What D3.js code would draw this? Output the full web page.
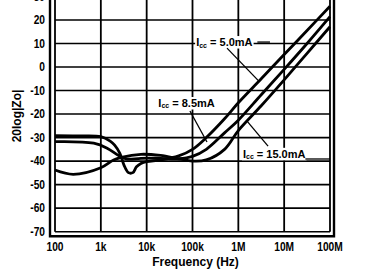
<!DOCTYPE html>
<html>
<head>
<meta charset="utf-8">
<script src="https://cdn.jsdelivr.net/npm/d3@7/dist/d3.min.js"></script>
<style>
  body { margin: 0; background: #fff; }
  svg { display: block; }
</style>
</head>
<body>
<svg id="chart" width="365" height="276"></svg>
<script>
// axis ticks
const freqTicks = [1e2, 1e3, 1e4, 1e5, 1e6, 1e7, 1e8];
const freqLabels = ["100", "1k", "10k", "100k", "1M", "10M", "100M"];
const dbTicks = [-70, -60, -50, -40, -30, -20, -10, 0, 10, 20, 30];

// Icc = 5.0mA
const freq5 = [100, 300, 1000, 1600, 2000, 2600, 3200, 4000, 5000, 6000, 7500, 10e3, 20e3, 50e3, 100e3, 200e3, 500e3, 1e6, 3.16e6, 10e6, 31.6e6, 100e6];
const db5 = [-29.2, -29.3, -29.6, -31.5, -33.2, -36.7, -41.7, -44.9, -44.9, -42.4, -41, -40.2, -39.5, -37.8, -35, -30, -22, -15.2, -5, 5.3, 15.5, 25.8];
// Icc = 8.5mA
const freq85 = [100, 700, 1400, 2500, 3600, 7500, 20e3, 50e3, 100e3, 200e3, 500e3, 1e6, 3.16e6, 10e6, 31.6e6, 100e6];
const db85 = [-31.75, -32.4, -34.6, -37.7, -39.1, -38.8, -38.8, -39, -38, -35, -28, -22.6, -11.8, -1, 10, 21.4];
// Icc = 15.0mA
const freq15 = [100, 250, 1000, 1900, 2800, 7500, 20e3, 50e3, 100e3, 200e3, 500e3, 1e6, 3.16e6, 10e6, 31.6e6, 100e6];
const db15 = [-43.8, -45.6, -42.8, -39.5, -38.4, -37.1, -37.6, -39, -40, -39.5, -35, -27, -16.5, -5.5, 5.8, 17.1];

const seriesNames = ["5.0mA", "8.5mA", "15.0mA"];

// label anchors (freq, dB of the baseline) and leader lines [[f,db],[f,db]]
const labelPos = [[1.2e5, 8.9], [1.8e4, -17], [1.26e6, -38.6]];
const leaders = [
  [[2.6e6, 10.6], [4.9e6, 10.6]],
  [[5.66e5, 8], [2.8e6, -6]],
  [[8.8e4, -18.7], [2.07e5, -31.9]],
  [[1.55e6, -23], [4.45e6, -33.6]],
  [[2.9e7, -39.1], [1e8, -39.1]]
];

const svg = d3.select("#chart");
const plotLeft = 55, plotRight = 330, plotTop = -3.6, plotBottom = 231.7;

const x = d3.scaleLog().domain([1e2, 1e8]).range([plotLeft, plotRight]);
const y = d3.scaleLinear().domain([-70, 30]).range([plotBottom, plotTop]);

// grid
svg.append("g")
  .attr("stroke", "#000")
  .attr("stroke-width", 1.6)
  .selectAll("line.h")
  .data(dbTicks)
  .join("line")
  .attr("x1", plotLeft).attr("x2", plotRight)
  .attr("y1", d => y(d)).attr("y2", d => y(d));

svg.append("g")
  .attr("stroke", "#000")
  .attr("stroke-width", 1.8)
  .selectAll("line.v")
  .data(freqTicks)
  .join("line")
  .attr("x1", d => x(d)).attr("x2", d => x(d))
  .attr("y1", plotTop).attr("y2", plotBottom);

// outer frame
svg.append("path")
  .attr("fill", "none")
  .attr("stroke", "#000")
  .attr("stroke-width", 2.4)
  .attr("d", `M${plotLeft - 5},${plotTop - 10}V${plotBottom + 4.5}H${plotRight + 4}V${plotTop - 10}`);

// curves
const line = d3.line()
  .x(d => x(d[0]))
  .y(d => y(d[1]))
  .curve(d3.curveCatmullRom.alpha(0.5));

const series = [
  d3.zip(freq5, db5),
  d3.zip(freq85, db85),
  d3.zip(freq15, db15)
];

svg.append("g")
  .attr("fill", "none")
  .attr("stroke", "#000")
  .attr("stroke-width", 2.8)
  .attr("stroke-linejoin", "round")
  .selectAll("path")
  .data(series)
  .join("path")
  .attr("d", line);

const font = "'Liberation Sans', Arial, sans-serif";

// curve labels, on white so the grid breaks around them
const labG = svg.append("g");
const lab = labG.selectAll("text")
  .data(seriesNames)
  .join("text")
  .style("font-family", font)
  .style("font-weight", "bold")
  .style("font-size", "11px")
  .attr("x", (d, i) => x(labelPos[i][0]))
  .attr("y", (d, i) => y(labelPos[i][1]));
lab.append("tspan").text("I");
lab.append("tspan").attr("dy", 1.5).style("font-size", "7px").text("cc");
lab.append("tspan").attr("dy", -1.5).text(d => " = " + d);
lab.each(function () {
  const b = this.getBBox();
  labG.insert("rect", "text")
    .attr("x", b.x - 1).attr("y", b.y)
    .attr("width", b.width + 2).attr("height", b.height)
    .attr("fill", "#fff");
});

// leader lines
svg.append("g")
  .attr("stroke", "#000")
  .attr("stroke-width", 1.3)
  .selectAll("line")
  .data(leaders)
  .join("line")
  .attr("x1", d => x(d[0][0])).attr("y1", d => y(d[0][1]))
  .attr("x2", d => x(d[1][0])).attr("y2", d => y(d[1][1]));

// y tick labels
svg.append("g")
  .style("font-family", font)
  .style("font-weight", "bold")
  .style("font-size", "12px")
  .attr("text-anchor", "end")
  .selectAll("text")
  .data(dbTicks)
  .join("text")
  .attr("class", "cond")
  .attr("x", 45)
  .attr("y", d => y(d))
  .attr("dy", "0.36em")
  .text(d => d);

// x tick labels
svg.append("g")
  .style("font-family", font)
  .style("font-weight", "bold")
  .style("font-size", "12px")
  .attr("text-anchor", "middle")
  .selectAll("text")
  .data(freqTicks)
  .join("text")
  .attr("class", "cond")
  .attr("x", d => x(d))
  .attr("y", 251)
  .text((d, i) => freqLabels[i]);

// axis titles
svg.append("text")
  .attr("x", 195.5)
  .attr("y", 266)
  .attr("text-anchor", "middle")
  .style("font-family", font)
  .style("font-weight", "bold")
  .style("font-size", "12px")
  .text("Frequency (Hz)");

svg.append("text")
  .attr("transform", "translate(21,116) rotate(-90)")
  .attr("text-anchor", "middle")
  .style("font-family", font)
  .style("font-weight", "bold")
  .style("font-size", "12px")
  .text("20log|Zo|");

// narrow the tick numerals a little, like the condensed face of the original
svg.selectAll("text.cond").each(function () {
  const w = this.getComputedTextLength();
  d3.select(this).attr("textLength", w * 0.85).attr("lengthAdjust", "spacingAndGlyphs");
});
</script>
</body>
</html>
